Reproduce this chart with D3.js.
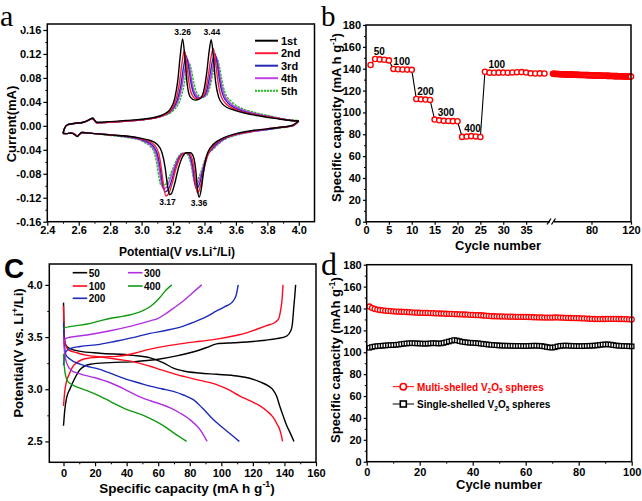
<!DOCTYPE html>
<html><head><meta charset="utf-8">
<script src="https://cdn.jsdelivr.net/npm/d3@7"></script>
<style>body{margin:0;background:#fff}svg{display:block}</style>
</head><body>
<svg id="c" width="642" height="501"></svg>
<script>
// ---------------- DATA ----------------
// Panel a: cyclic voltammetry, [potential V, current mA]; upper = anodic sweep, lower = cathodic sweep
const cvNames = ["1st","2nd","3rd","4th","5th"];
const cvUp1 = [[2.50,-0.012],[2.51,-0.004],[2.53,0.002],[2.57,0.004],[2.63,0.006],[2.665,0.010],[2.69,0.013],[2.70,0.010],[2.715,0.006],[2.80,0.007],[2.90,0.009],[3.00,0.011],[3.08,0.014],[3.14,0.019],[3.18,0.027],[3.21,0.045],[3.23,0.075],[3.245,0.115],[3.261,0.145],[3.275,0.115],[3.29,0.07],[3.31,0.048],[3.34,0.043],[3.37,0.045],[3.395,0.058],[3.415,0.09],[3.43,0.125],[3.443,0.144],[3.455,0.12],[3.47,0.075],[3.49,0.048],[3.52,0.035],[3.58,0.027],[3.66,0.021],[3.76,0.016],[3.86,0.012],[3.95,0.009],[4.00,0.008]];
const cvDn1 = [[4.00,0.008],[3.96,0.001],[3.90,-0.002],[3.80,-0.005],[3.70,-0.008],[3.60,-0.013],[3.52,-0.02],[3.46,-0.03],[3.42,-0.045],[3.395,-0.075],[3.38,-0.105],[3.366,-0.119],[3.355,-0.105],[3.345,-0.075],[3.33,-0.052],[3.31,-0.045],[3.285,-0.045],[3.26,-0.052],[3.235,-0.07],[3.21,-0.097],[3.19,-0.113],[3.178,-0.115],[3.165,-0.10],[3.15,-0.07],[3.13,-0.045],[3.10,-0.031],[3.05,-0.024],[3.00,-0.021],[2.90,-0.017],[2.80,-0.015],[2.70,-0.013],[2.62,-0.011],[2.605,-0.014],[2.59,-0.018],[2.575,-0.015],[2.55,-0.012],[2.52,-0.013],[2.50,-0.012]];
const cvUp2 = [[2.50,-0.013],[2.51,-0.004],[2.53,0.002],[2.57,0.004],[2.63,0.006],[2.66,0.009],[2.685,0.012],[2.70,0.009],[2.715,0.005],[2.80,0.006],[2.90,0.008],[3.00,0.010],[3.08,0.013],[3.14,0.018],[3.19,0.027],[3.22,0.045],[3.24,0.07],[3.257,0.105],[3.272,0.126],[3.287,0.105],[3.30,0.075],[3.32,0.052],[3.35,0.045],[3.38,0.047],[3.405,0.058],[3.425,0.085],[3.442,0.115],[3.456,0.129],[3.47,0.108],[3.485,0.075],[3.505,0.05],[3.54,0.036],[3.60,0.027],[3.68,0.021],[3.78,0.016],[3.88,0.012],[3.95,0.009],[4.00,0.008]];
const cvDn2 = [[4.00,0.008],[3.96,0.0],[3.90,-0.002],[3.80,-0.005],[3.70,-0.009],[3.60,-0.014],[3.52,-0.021],[3.46,-0.032],[3.42,-0.05],[3.395,-0.075],[3.375,-0.10],[3.357,-0.112],[3.345,-0.10],[3.335,-0.075],[3.32,-0.054],[3.30,-0.046],[3.27,-0.046],[3.245,-0.053],[3.22,-0.07],[3.195,-0.095],[3.175,-0.112],[3.155,-0.117],[3.14,-0.10],[3.125,-0.07],[3.11,-0.047],[3.085,-0.033],[3.04,-0.025],[3.00,-0.022],[2.90,-0.017],[2.80,-0.015],[2.70,-0.013],[2.62,-0.011],[2.605,-0.014],[2.59,-0.017],[2.575,-0.014],[2.55,-0.012],[2.52,-0.013],[2.50,-0.013]];
const cvUp3 = [[2.50,-0.013],[2.51,-0.004],[2.53,0.002],[2.57,0.004],[2.63,0.006],[2.66,0.009],[2.685,0.012],[2.70,0.009],[2.715,0.005],[2.80,0.006],[2.90,0.008],[3.00,0.010],[3.08,0.013],[3.14,0.018],[3.19,0.026],[3.225,0.042],[3.25,0.068],[3.268,0.10],[3.283,0.117],[3.298,0.10],[3.312,0.075],[3.33,0.055],[3.36,0.046],[3.39,0.048],[3.415,0.06],[3.435,0.085],[3.452,0.11],[3.466,0.121],[3.48,0.105],[3.495,0.077],[3.515,0.053],[3.55,0.038],[3.61,0.028],[3.69,0.021],[3.79,0.016],[3.88,0.012],[3.95,0.009],[4.00,0.008]];
const cvDn3 = [[4.00,0.008],[3.96,0.0],[3.90,-0.002],[3.80,-0.006],[3.70,-0.009],[3.60,-0.014],[3.52,-0.022],[3.46,-0.034],[3.415,-0.052],[3.39,-0.075],[3.368,-0.097],[3.35,-0.105],[3.338,-0.095],[3.328,-0.072],[3.313,-0.054],[3.295,-0.046],[3.265,-0.046],[3.24,-0.053],[3.215,-0.07],[3.19,-0.092],[3.168,-0.107],[3.148,-0.11],[3.132,-0.095],[3.117,-0.068],[3.10,-0.047],[3.075,-0.034],[3.03,-0.026],[3.00,-0.023],[2.90,-0.018],[2.80,-0.015],[2.70,-0.013],[2.62,-0.011],[2.605,-0.014],[2.59,-0.017],[2.575,-0.014],[2.55,-0.012],[2.52,-0.013],[2.50,-0.013]];
const cvUp4 = [[2.50,-0.013],[2.51,-0.004],[2.53,0.002],[2.57,0.004],[2.63,0.006],[2.66,0.009],[2.685,0.012],[2.70,0.009],[2.715,0.005],[2.80,0.006],[2.90,0.008],[3.00,0.010],[3.08,0.013],[3.14,0.017],[3.19,0.025],[3.23,0.04],[3.255,0.064],[3.275,0.094],[3.292,0.111],[3.307,0.096],[3.32,0.074],[3.34,0.055],[3.37,0.047],[3.40,0.049],[3.425,0.062],[3.445,0.086],[3.461,0.107],[3.474,0.116],[3.488,0.101],[3.503,0.076],[3.523,0.054],[3.56,0.039],[3.62,0.029],[3.70,0.022],[3.80,0.016],[3.89,0.012],[3.95,0.009],[4.00,0.008]];
const cvDn4 = [[4.00,0.008],[3.96,0.0],[3.90,-0.002],[3.80,-0.006],[3.70,-0.010],[3.60,-0.015],[3.52,-0.023],[3.46,-0.036],[3.41,-0.053],[3.385,-0.075],[3.362,-0.093],[3.345,-0.10],[3.333,-0.09],[3.322,-0.07],[3.307,-0.053],[3.29,-0.046],[3.26,-0.046],[3.235,-0.053],[3.21,-0.068],[3.183,-0.088],[3.16,-0.102],[3.138,-0.105],[3.122,-0.09],[3.108,-0.066],[3.092,-0.047],[3.067,-0.035],[3.025,-0.027],[3.00,-0.024],[2.90,-0.018],[2.80,-0.015],[2.70,-0.013],[2.62,-0.011],[2.605,-0.014],[2.59,-0.017],[2.575,-0.014],[2.55,-0.012],[2.52,-0.013],[2.50,-0.013]];
const cvUp5 = [[2.50,-0.013],[2.51,-0.004],[2.53,0.002],[2.57,0.004],[2.63,0.006],[2.66,0.009],[2.685,0.012],[2.70,0.009],[2.715,0.005],[2.80,0.006],[2.90,0.008],[3.00,0.010],[3.08,0.013],[3.14,0.017],[3.20,0.025],[3.24,0.04],[3.265,0.062],[3.285,0.09],[3.303,0.104],[3.318,0.092],[3.332,0.072],[3.35,0.056],[3.38,0.048],[3.41,0.05],[3.433,0.063],[3.452,0.085],[3.468,0.103],[3.481,0.111],[3.495,0.099],[3.51,0.077],[3.53,0.056],[3.57,0.041],[3.63,0.030],[3.71,0.023],[3.81,0.017],[3.89,0.012],[3.95,0.010],[4.00,0.009]];
const cvDn5 = [[4.00,0.009],[3.96,0.0],[3.90,-0.003],[3.80,-0.006],[3.70,-0.010],[3.60,-0.016],[3.52,-0.024],[3.46,-0.038],[3.405,-0.055],[3.38,-0.075],[3.357,-0.089],[3.34,-0.095],[3.328,-0.085],[3.316,-0.067],[3.30,-0.052],[3.282,-0.046],[3.255,-0.046],[3.23,-0.053],[3.205,-0.067],[3.175,-0.086],[3.15,-0.098],[3.125,-0.10],[3.11,-0.086],[3.097,-0.064],[3.082,-0.046],[3.058,-0.035],[3.02,-0.028],[3.00,-0.025],[2.90,-0.019],[2.80,-0.016],[2.70,-0.013],[2.62,-0.011],[2.605,-0.014],[2.59,-0.017],[2.575,-0.014],[2.55,-0.012],[2.52,-0.013],[2.50,-0.013]];
const aXTicks = [2.4,2.6,2.8,3.0,3.2,3.4,3.6,3.8,4.0];
const aYTicks = [-0.16,-0.12,-0.08,-0.04,0,0.04,0.08,0.12,0.16];
const aPeakLabels = [["3.26",3.261,0.151],["3.44",3.447,0.152],["3.17",3.165,-0.132],["3.36",3.365,-0.134]];

// Panel b: rate capability, capacity per cycle (cycles 1-39, then 41-120)
const bCap1 = [143.4,148.9,148.5,148.2,147.6,139.8,139.5,139.3,139.2,139.0,112.3,112.0,111.8,111.4,93.5,92.8,92.3,92.2,92.0,91.9,77.6,77.9,78.3,78.0,77.5,137.2,136.4,136.3,136.4,136.5,136.3,136.6,136.8,136.9,136.5,135.8,135.6,135.7,135.6];
const bCap2 = [135.4,135.3,135.3,135.2,135.2,135.1,135.1,135.0,135.0,135.0,
 134.9,134.9,134.8,134.8,134.8,134.7,134.7,134.7,134.6,134.6,
 134.6,134.5,134.5,134.5,134.4,134.4,134.4,134.3,134.3,134.3,
 134.3,134.2,134.2,134.2,134.1,134.1,134.1,134.0,134.0,134.0,
 133.9,133.9,133.9,133.8,133.8,133.8,133.7,133.7,133.7,133.6,
 133.6,133.6,133.5,133.5,133.5,133.4,133.4,133.4,133.3,133.3,
 133.3,133.3,133.2,133.2,133.2,133.2,133.1,133.1,133.1,133.1,
 133.0,133.0,133.0,133.0,132.9,132.9,132.9,132.9,132.8,132.8];
const bStartCycle2 = 41;
const bRateLabels = [["50",2.9,152.5],["100",7.8,143.1],["200",13.0,116],["300",17.5,96.7],["400",23.3,82.4],["100",28.6,140.4]];
const bXTicks1 = [0,5,10,15,20,25,30,35];
const bXTicks2 = [80,120];
const bYTicks = [0,20,40,60,80,100,120,140,160,180];

// Panel c: charge/discharge profiles [capacity mAh/g, potential V]
const cRates = ["50","100","200","300","400"];
const c50dis = [[0,3.83],[0.3,3.60],[0.8,3.45],[2,3.41],[5,3.385],[10,3.365],[23,3.345],[44,3.325],[55,3.30],[63,3.255],[70,3.20],[76,3.175],[86,3.155],[97,3.143],[110,3.127],[118,3.105],[124.5,3.07],[130,3.03],[133,2.99],[135,2.935],[137,2.84],[139.3,2.74],[141.5,2.65],[144,2.57],[146,2.50]];
const c50chg = [[0,2.65],[0.8,2.80],[2,2.92],[4,3.0],[7,3.10],[10.5,3.19],[16.8,3.24],[29.5,3.255],[45,3.265],[59,3.285],[71.7,3.32],[82,3.357],[90.7,3.40],[97,3.435],[107.6,3.445],[118,3.455],[128,3.47],[135,3.485],[141.4,3.51],[144,3.56],[145,3.62],[146,3.80],[146.6,3.9],[147.1,4.0]];
const c100dis = [[0,3.80],[0.3,3.58],[1,3.45],[3,3.38],[8.4,3.35],[15,3.325],[23,3.31],[35,3.285],[44,3.265],[54.8,3.22],[62,3.185],[71.7,3.14],[86.5,3.085],[97,3.045],[104,3.0],[111.8,2.935],[118,2.89],[124.5,2.84],[129,2.79],[133,2.727],[135.5,2.66],[137,2.615],[138,2.56],[138.8,2.50]];
const c100chg = [[0,2.84],[0.8,2.98],[2,3.08],[3.5,3.14],[6,3.22],[8.4,3.255],[12,3.285],[16.8,3.30],[25,3.31],[33.7,3.315],[45,3.345],[54.8,3.385],[65.4,3.415],[76,3.44],[86.5,3.46],[97,3.48],[107.6,3.51],[116,3.54],[122.4,3.575],[128.7,3.61],[134,3.64],[136.5,3.68],[137.5,3.75],[138.5,3.86],[139.1,4.0]];
const c200dis = [[0,3.64],[0.5,3.45],[1.5,3.33],[4,3.29],[10.5,3.24],[23,3.19],[32,3.14],[40,3.095],[48,3.06],[54.8,3.03],[62,3.005],[69.6,2.98],[76,2.945],[82.2,2.90],[88,2.82],[94.9,2.71],[99,2.655],[103.4,2.60],[107.5,2.55],[111.4,2.50]];
const c200chg = [[0,3.23],[0.5,3.30],[1.5,3.36],[4,3.39],[10.5,3.41],[23,3.43],[33,3.46],[44,3.495],[54.8,3.535],[65.4,3.565],[75,3.60],[82.2,3.64],[90,3.69],[97,3.75],[102,3.79],[106.6,3.83],[109.3,3.895],[110.7,4.0]];
const c300dis = [[0,3.48],[0.5,3.38],[2,3.25],[5,3.18],[10,3.15],[20,3.11],[30,3.06],[40,2.99],[48,2.93],[55,2.89],[62,2.855],[68,2.82],[74,2.77],[80,2.71],[85,2.64],[88,2.58],[91,2.50]];
const c300chg = [[0,3.44],[0.5,3.47],[2,3.49],[5,3.50],[15,3.52],[29.5,3.56],[44,3.61],[54.8,3.655],[60,3.68],[65.4,3.73],[70,3.78],[75.9,3.845],[82.2,3.93],[87.6,4.0]];
const c400dis = [[0,3.34],[0.5,3.22],[1.5,3.12],[3,3.07],[6,3.04],[10.5,3.01],[16,2.98],[23,2.935],[30,2.88],[38,2.82],[45,2.78],[50.6,2.75],[54.8,2.72],[60,2.68],[65.4,2.63],[70,2.58],[74,2.54],[78,2.50]];
const c400chg = [[0,3.58],[1,3.59],[4,3.60],[8.4,3.61],[15,3.625],[23,3.655],[30,3.68],[38,3.70],[44,3.72],[50,3.75],[54.8,3.79],[58,3.83],[61.1,3.88],[65,3.95],[68.6,4.0]];
const cXTicks = [0,20,40,60,80,100,120,140,160];
const cYTicks = [2.5,3.0,3.5,4.0];

// Panel d: cycling at 100 mA/g, cycles 1-100
const dMulti = [141.8,140.5,139.6,139.0,138.6,138.3,138.0,137.8,137.6,137.4,
 137.2,137.1,137.0,136.9,136.8,136.6,136.5,136.3,136.2,136.1,
 136.0,135.9,135.9,135.8,135.7,135.6,135.5,135.4,135.3,135.2,
 135.1,135.0,134.9,134.8,134.7,134.6,134.5,134.4,134.2,134.1,
 134.0,133.9,133.8,133.6,133.4,133.2,133.0,132.9,132.8,132.7,
 132.7,132.6,132.6,132.5,132.5,132.4,132.4,132.4,132.3,132.3,
 132.2,132.1,132.0,131.9,131.8,131.8,131.7,131.7,131.7,131.7,
 131.8,131.8,131.7,131.6,131.5,131.4,131.3,131.2,131.1,131.1,
 131.0,130.9,130.8,130.6,130.5,130.4,130.3,130.3,130.4,130.4,
 130.5,130.5,130.5,130.5,130.4,130.4,130.3,130.2,130.1,130.0];
const dSingle = [104.1,104.8,105.3,105.6,105.8,106.0,106.2,106.4,106.5,106.6,
 106.8,107.0,107.4,107.8,108.0,108.2,108.3,108.2,108.1,108.0,
 107.9,107.8,107.9,108.1,108.3,108.2,108.0,108.1,108.5,109.2,
 109.8,110.5,111.1,110.8,110.2,109.6,109.2,108.9,108.7,108.6,
 108.4,108.2,107.9,107.6,107.3,107.0,106.8,106.6,106.4,106.2,
 106.1,106.0,106.0,105.9,105.9,105.8,105.8,105.8,105.7,105.7,
 105.8,105.9,106.0,106.0,105.9,105.7,105.3,104.8,104.4,104.2,
 104.6,105.3,105.8,106.0,106.1,106.0,105.9,105.8,105.7,105.6,
 105.6,105.7,105.8,105.9,106.0,106.1,106.3,106.7,107.0,107.2,
 107.2,107.0,106.6,106.2,106.0,105.8,105.7,105.6,105.5,105.4];
const dXTicks = [0,20,40,60,80,100];
const dYTicks = [0,20,40,60,80,100,120,140,160,180];

// ---------------- DRAWING ----------------
const F = '"Liberation Sans", Arial, Helvetica, sans-serif';
const SERIF = '"Liberation Serif", "Times New Roman", serif';
const svg = d3.select("#c");

function frame(x0,y0,x1,y1){
  svg.append("rect").attr("x",x0).attr("y",y0).attr("width",x1-x0).attr("height",y1-y0)
    .attr("fill","none").attr("stroke","#000").attr("stroke-width",1.5);
}
function mids(arr){ return d3.pairs(arr).map(p=>(p[0]+p[1])/2); }
function drawAxis(orient, scale, pos, major, fmt, fs, pad, size, minor){
  const gen = orient==="bottom"?d3.axisBottom:d3.axisLeft;
  const g = svg.append("g").attr("transform", orient==="bottom"?`translate(0,${pos})`:`translate(${pos},0)`)
    .call(gen(scale).tickValues(major).tickFormat(fmt).tickSize(size).tickSizeOuter(0).tickPadding(pad));
  g.select(".domain").remove();
  g.selectAll("line").attr("stroke","#000").attr("stroke-width",1.2);
  g.selectAll("text").attr("font-family",F).attr("font-weight","bold").attr("font-size",fs).attr("fill","#000");
  if(minor){
    const gm = svg.append("g").attr("transform", orient==="bottom"?`translate(0,${pos})`:`translate(${pos},0)`)
      .call(gen(scale).tickValues(minor).tickFormat("").tickSize(2).tickSizeOuter(0));
    gm.select(".domain").remove();
    gm.selectAll("line").attr("stroke","#000").attr("stroke-width",1);
  }
}
function rich(x,y,parts,size,opts){
  opts = opts||{};
  const t = svg.append("text").attr("font-family",F).attr("font-weight","bold").attr("font-size",size)
    .attr("fill",opts.fill||"#000").attr("text-anchor",opts.anchor||"middle");
  if(opts.rotate) t.attr("transform",`translate(${x},${y}) rotate(-90)`); else t.attr("x",x).attr("y",y);
  let shift=0;
  parts.forEach(p=>{
    if(typeof p==="string") p={t:p};
    const target = p.sup? -0.42*size : p.sub? 0.28*size : 0;
    const ts = t.append("tspan").text(p.t).attr("dy", target-shift);
    if(p.sup||p.sub) ts.attr("font-size", size*0.65);
    if(p.it) ts.attr("font-style","italic");
    shift = target;
  });
  return t;
}

// ===== Panel a =====
const xA = d3.scaleLinear([2.4,4.1],[47.3,314.5]);
const yA = d3.scaleLinear([-0.16,0.17],[221.7,24]);
const cvColors = ["#000000","#ff1a3c","#2626b8","#c040e8","#1fbf1f"];
const cvUps = [cvUp1,cvUp2,cvUp3,cvUp4,cvUp5];
const cvDns = [cvDn1,cvDn2,cvDn3,cvDn4,cvDn5];
const lineA = d3.line().x(d=>xA(d[0])).y(d=>yA(d[1])).curve(d3.curveMonotoneX);
[4,3,2,1,0].forEach(i=>{
  [cvUps[i], cvDns[i].slice().reverse()].forEach(br=>{
    svg.append("path").attr("d",lineA(br)).attr("fill","none").attr("stroke",cvColors[i])
      .attr("stroke-width",1.4).attr("stroke-dasharray", i===4?"2.5,1":null);
  });
});
frame(47.3,24,314.5,221.7);
drawAxis("bottom",xA,221.7,aXTicks,d=>d.toFixed(1),11,1,4,mids(aXTicks));
drawAxis("left",yA,47.3,aYTicks,d=>d.toFixed(2),11,2,4,mids(aYTicks));
aPeakLabels.forEach(p=>{
  svg.append("text").attr("x",xA(p[1])).attr("y",yA(p[2])).attr("text-anchor","middle")
    .attr("font-family",F).attr("font-weight","bold").attr("font-size",8.5).text(p[0]);
});
cvNames.forEach((n,i)=>{
  const y = 40.7 + i*12.5;
  svg.append("line").attr("x1",255).attr("x2",278).attr("y1",y).attr("y2",y).attr("stroke",cvColors[i])
    .attr("stroke-width",2).attr("stroke-dasharray", i===4?"2,1":null);
  svg.append("text").attr("x",281).attr("y",y+4).attr("font-family",F).attr("font-weight","bold").attr("font-size",11).text(n);
});
rich(177,256,["Potential(V ",{t:"vs.",it:true},"Li",{t:"+",sup:true},"/Li)"],12);
rich(15.5,124,["Current(mA)"],13,{rotate:true});
svg.append("rect").attr("x",0).attr("y",8).attr("width",23).attr("height",22).attr("fill","#fff");
svg.append("text").attr("x",0).attr("y",26).attr("font-family",SERIF).attr("font-size",30).text("a");

// ===== Panel b =====
const xB1 = d3.scaleLinear([0,40],[366,549]);
const xB2 = d3.scaleLinear([40,120],[552,631]);
const yB = d3.scaleLinear([0,180],[221.7,25]);
const bPts1 = bCap1.map((v,i)=>[i+1,v]);
const bPts2 = bCap2.map((v,i)=>[bStartCycle2+i,v]);
svg.append("path").attr("d",d3.line().x(d=>xB1(d[0])).y(d=>yB(d[1]))(bPts1))
  .attr("fill","none").attr("stroke","#000").attr("stroke-width",1.1);
svg.append("g").selectAll("circle").data(bPts2).join("circle")
  .attr("cx",d=>xB2(d[0])).attr("cy",d=>yB(d[1])).attr("r",2.6)
  .attr("fill","#fff").attr("stroke","#ff0000").attr("stroke-width",1.4);
svg.append("g").selectAll("circle").data(bPts1).join("circle")
  .attr("cx",d=>xB1(d[0])).attr("cy",d=>yB(d[1])).attr("r",2.6)
  .attr("fill","#fff").attr("stroke","#ff0000").attr("stroke-width",1.4);
bRateLabels.forEach(p=>{
  svg.append("text").attr("x",xB1(p[1])).attr("y",yB(p[2])).attr("text-anchor","middle")
    .attr("font-family",F).attr("font-weight","bold").attr("font-size",10).text(p[0]);
});
// frame with broken bottom axis
svg.append("path").attr("d","M550,221.7 H366 V25 H631 V221.7 H554").attr("fill","none").attr("stroke","#000").attr("stroke-width",1.5);
svg.append("path").attr("d","M547,224.5 L551,218.5 M551.5,224.5 L555.5,218.5").attr("stroke","#000").attr("stroke-width",1.3);
drawAxis("bottom",xB1,221.7,bXTicks1,d=>d,11,2,3,null);
drawAxis("bottom",xB2,221.7,bXTicks2,d=>d,11,2,3,null);
drawAxis("left",yB,366,bYTicks,d=>d,11,2,3,mids(bYTicks));
rich(341,117.5,["Specific capacity (mA h g",{t:"-1",sup:true},")"],13,{rotate:true});
rich(498,250,["Cycle number"],13);
svg.append("text").attr("x",321).attr("y",26).attr("font-family",SERIF).attr("font-size",29).text("b");

// ===== Panel c =====
const xC = d3.scaleLinear([-9,160],[49.3,316]);
const yC = d3.scaleLinear([2.3,4.2],[462.3,264]);
const cColors = ["#000000","#ff0a1e","#1c2ab8","#b030e0","#109a10"];
const cSets = [[c50dis,c50chg],[c100dis,c100chg],[c200dis,c200chg],[c300dis,c300chg],[c400dis,c400chg]];
const lineC = d3.line().x(d=>xC(d[0])).y(d=>yC(d[1])).curve(d3.curveMonotoneX);
cSets.forEach((s,i)=>{
  s.forEach(curve=>{
    svg.append("path").attr("d",lineC(curve)).attr("fill","none").attr("stroke",cColors[i]).attr("stroke-width",1.4);
  });
});
frame(49.3,264,316,462.3);
drawAxis("bottom",xC,462.3,cXTicks,d=>d,11,2.4,4,mids(cXTicks));
drawAxis("left",yC,49.3,cYTicks,d=>d.toFixed(1),11,2.6,4,mids(cYTicks));
const cLeg = [[72.7,272.7],[72.7,286],[72.7,298.3],[128,272.7],[128,286]];
cRates.forEach((r,i)=>{
  const [lx,ly] = cLeg[i];
  svg.append("line").attr("x1",lx).attr("x2",lx+14.5).attr("y1",ly).attr("y2",ly).attr("stroke",cColors[i]).attr("stroke-width",1.6);
  svg.append("text").attr("x",lx+16).attr("y",ly+3.8).attr("font-family",F).attr("font-weight","bold").attr("font-size",10).text(r);
});
rich(187,493,["Specific capacity (mA h g",{t:"-1",sup:true},")"],13.5);
rich(23,353,["Potential(V vs. Li",{t:"+",sup:true},"/Li)"],13,{rotate:true});
svg.append("text").attr("x",4).attr("y",278).attr("font-family",F).attr("font-weight","bold").attr("font-size",28).text("C");

// ===== Panel d =====
const xD = d3.scaleLinear([0,100],[366.7,631.7]);
const yD = d3.scaleLinear([0,180],[461.7,264.7]);
const dPtsM = dMulti.map((v,i)=>[i+1,v]);
const dPtsS = dSingle.map((v,i)=>[i+1,v]);
const lineD = d3.line().x(d=>xD(d[0])).y(d=>yD(d[1]));
svg.append("path").attr("d",lineD(dPtsS)).attr("fill","none").attr("stroke","#000").attr("stroke-width",1);
svg.append("path").attr("d",lineD(dPtsM)).attr("fill","none").attr("stroke","#ff0000").attr("stroke-width",1);
svg.append("g").selectAll("rect").data(dPtsS).join("rect")
  .attr("x",d=>xD(d[0])-2.2).attr("y",d=>yD(d[1])-2.2).attr("width",4.4).attr("height",4.4)
  .attr("fill","#fff").attr("stroke","#000").attr("stroke-width",1.3);
svg.append("g").selectAll("circle").data(dPtsM).join("circle")
  .attr("cx",d=>xD(d[0])).attr("cy",d=>yD(d[1])).attr("r",2.5)
  .attr("fill","#fff").attr("stroke","#ff0000").attr("stroke-width",1.3);
frame(366.7,264.7,631.7,461.7);
drawAxis("bottom",xD,461.7,dXTicks,d=>d,11,2.5,4,mids(dXTicks));
drawAxis("left",yD,366.7,dYTicks,d=>d,11,2,3,mids(dYTicks));
// legend
svg.append("line").attr("x1",392.7).attr("x2",414).attr("y1",386.7).attr("y2",386.7).attr("stroke","#ff0000").attr("stroke-width",1);
svg.append("circle").attr("cx",403.3).attr("cy",386.7).attr("r",3.2).attr("fill","#fff").attr("stroke","#ff0000").attr("stroke-width",1.6);
rich(417,390.5,["Multi-shelled V",{t:"2",sub:true},"O",{t:"5",sub:true}," spheres"],10,{anchor:"start",fill:"#ff0000"});
svg.append("line").attr("x1",392.7).attr("x2",414).attr("y1",404).attr("y2",404).attr("stroke","#000").attr("stroke-width",1);
svg.append("rect").attr("x",400.3).attr("y",401).attr("width",6).attr("height",6).attr("fill","#fff").attr("stroke","#000").attr("stroke-width",1.6);
rich(417,407.8,["Single-shelled V",{t:"2",sub:true},"O",{t:"5",sub:true}," spheres"],10,{anchor:"start"});
rich(340,360,["Specific capacity (mAh g",{t:"-1",sup:true},")"],13,{rotate:true});
rich(499,489,["Cycle number"],13);
svg.append("text").attr("x",321).attr("y",275).attr("font-family",SERIF).attr("font-size",32).text("d");
</script>
</body></html>
